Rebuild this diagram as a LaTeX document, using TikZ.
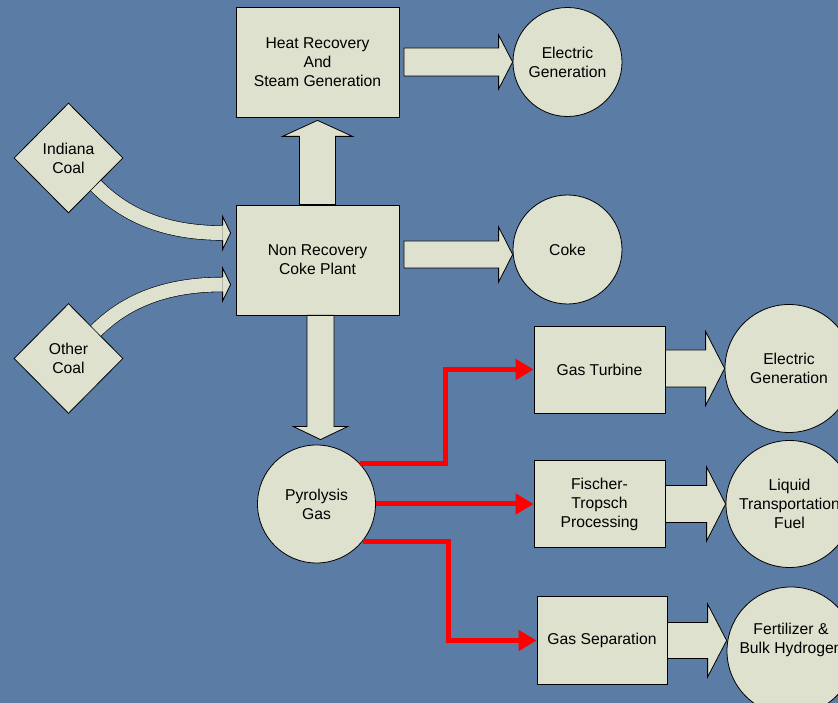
\documentclass[tikz,border=0pt]{standalone}
\usepackage{fontspec}
\setmainfont{Liberation Sans}
\usetikzlibrary{shapes.geometric,arrows.meta,calc}

\definecolor{slide}{RGB}{91,124,165}
\definecolor{pale}{RGB}{222,225,205}

\tikzset{
  fatline/.style={draw=black, line width=0.8pt, fill=pale},
  stage/.style={rectangle, draw=black, line width=0.8pt, fill=pale, align=center, inner sep=2pt},
  product/.style={circle, draw=black, line width=0.8pt, fill=pale, align=center, inner sep=1pt},
  feed/.style={diamond, draw=black, line width=0.8pt, fill=pale, align=center, inner sep=0pt, aspect=1},
  gasline/.style={red, line width=5pt, -{Triangle[length=18pt,width=20pt]}},
  feedband/.style={draw=black, line width=0.6pt, double=pale, double distance=14pt}
}

% block arrow: from, tip, shaft half width, head half width, head length
\newcommand{\fatarrow}[5]{
  \coordinate (fa-s) at (#1);
  \coordinate (fa-t) at (#2);
  \coordinate (fa-h) at ($(fa-t)!#5!(fa-s)$);
  \filldraw[fatline] ($(fa-s)!#3!90:(fa-t)$) -- ($(fa-h)!#3!90:(fa-t)$)
    -- ($(fa-h)!#4!90:(fa-t)$) -- (fa-t)
    -- ($(fa-h)!#4!-90:(fa-t)$) -- ($(fa-h)!#3!-90:(fa-t)$)
    -- ($(fa-s)!#3!-90:(fa-t)$) -- cycle;
}
% small head at the end of a bent feed arrow
\newcommand{\fathead}[1]{
  \filldraw[fatline] ($(#1)+(0,7.5)$) -- ($(#1)+(0,16.5)$) -- ($(#1)+(8,0)$)
    -- ($(#1)+(0,-16.5)$) -- ($(#1)+(0,-7.5)$);
}

\begin{document}
\begin{tikzpicture}[x=1pt,y=1pt,font=\fontsize{15.7}{19}\selectfont]
  \useasboundingbox (0,0) rectangle (838,703);
  \clip (0,0) rectangle (838,703);
  \fill[slide] (0,0) rectangle (838,703);

  \node[stage, minimum width=163pt, minimum height=110pt] (heat) at (317.5,641) {Heat Recovery\\And\\Steam Generation};
  \node[stage, minimum width=163pt, minimum height=110pt] (plant) at (317.5,443) {Non Recovery\\Coke Plant};
  \node[product, minimum size=109pt] (power) at (567.5,641) {Electric\\Generation};
  \node[product, minimum size=109pt] (coke) at (567.5,453.5) {Coke};
  \node[product, minimum size=118pt] (pyro) at (316.5,199) {Pyrolysis\\Gas};
  \node[feed, minimum width=109pt, minimum height=110pt] (indiana) at (68.5,545) {Indiana\\Coal};
  \node[feed, minimum width=109pt, minimum height=110pt] (other) at (68.5,344.5) {Other\\Coal};

  \node[stage, minimum width=131pt, minimum height=87pt] (turbine) at (599.5,333.5) {Gas Turbine};
  \node[stage, minimum width=131pt, minimum height=87pt] (ft) at (599.5,199) {Fischer-\\Tropsch\\Processing};
  \node[stage, minimum width=130pt, minimum height=88pt] (sep) at (602,62.5) {Gas Separation};
  \node[product, minimum size=128pt] (turbpower) at (789,334.5) {Electric\\Generation};
  \node[product, minimum size=127pt] (fuel) at (789.5,199) {Liquid\\Transportation\\Fuel};
  \node[product, minimum size=128pt] (fert) at (791,52) {};
  \node[align=center] (fertlabel) at ([yshift=11pt]fert.center) {Fertilizer \&\\Bulk Hydrogen};

  \fatarrow{[xshift=4.5pt]heat.east}{power.west}{14pt}{27pt}{14pt}
  \fatarrow{[shift={(4.5pt,5.5pt)}]plant.east}{[yshift=-5pt]coke.west}{13.5pt}{27.5pt}{14pt}
  \fatarrow{plant.north}{[yshift=-3pt]heat.south}{18pt}{35pt}{16pt}
  \fatarrow{[xshift=3pt]plant.south}{[shift={(4pt,5pt)}]pyro.north}{13.5pt}{27pt}{13pt}
  \fatarrow{[yshift=1pt]turbine.east}{turbpower.west}{18.5pt}{37pt}{19pt}
  \fatarrow{ft.east}{fuel.west}{18.5pt}{37pt}{19pt}
  \fatarrow{sep.east}{fert.west |- sep.east}{18pt}{36.5pt}{19pt}

  \draw[gasline] (pyro.43) -| ([xshift=-88pt]turbine.west) -- (turbine.west);
  \draw[gasline] (pyro.east) -- (ft.west);
  \draw[gasline] (pyro.-39) -| ([xshift=-88pt]sep.west) -- (sep.west);

  \coordinate (intop) at ([shift={(-13pt,27pt)}]plant.west);
  \coordinate (inbot) at ([shift={(-13pt,-24.5pt)}]plant.west);
  \draw[feedband] (indiana.south east) .. controls +(29,-29.5) and +(-58,0) .. (intop);
  \fathead{intop}
  \draw[feedband] (other.north east) .. controls +(29,29) and +(-58,0) .. (inbot);
  \fathead{inbot}
\end{tikzpicture}
\end{document}
